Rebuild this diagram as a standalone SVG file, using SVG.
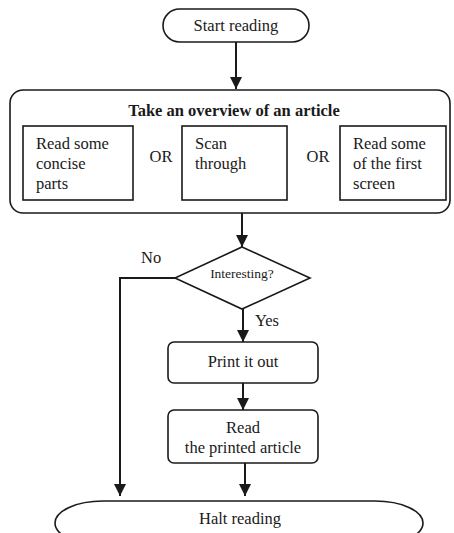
<svg xmlns="http://www.w3.org/2000/svg" width="454" height="533" viewBox="0 0 454 533">
<defs>
<style>
.s{fill:#fff;stroke:#1a1a1a;stroke-width:1.6}
.t{font-family:"Liberation Serif","Times New Roman",serif;font-size:16.5px;fill:#1a1a1a}
.c{text-anchor:middle}
.b{font-weight:bold}
.e{fill:none;stroke:#1a1a1a;stroke-width:2}
</style>
<marker id="ah" viewBox="0 0 12 12" refX="12" refY="6" markerWidth="12" markerHeight="12" markerUnits="userSpaceOnUse" orient="auto">
<path d="M0,0 L12,6 L0,12 Z" fill="#1a1a1a"/>
</marker>
</defs>
<rect width="454" height="533" fill="#fff"/>
<g id="start">
<rect class="s" x="163" y="9" width="146" height="33" rx="16.5"/>
<text class="t c" x="236" y="31">Start reading</text>
</g>
<g id="overview">
<rect class="s" x="10" y="90" width="440" height="123" rx="13"/>
<text class="t c b" x="234" y="116">Take an overview of an article</text>
<text class="t c" x="161" y="162">OR</text>
<text class="t c" x="318" y="162">OR</text>
</g>
<g id="opt1">
<rect class="s" x="23" y="126" width="110" height="74"/>
<text class="t" x="36" y="149">Read some</text>
<text class="t" x="36" y="169">concise</text>
<text class="t" x="36" y="189">parts</text>
</g>
<g id="opt2">
<rect class="s" x="182" y="126" width="105" height="74"/>
<text class="t" x="195" y="149">Scan</text>
<text class="t" x="195" y="169">through</text>
</g>
<g id="opt3">
<rect class="s" x="340" y="126" width="106" height="74"/>
<text class="t" x="353" y="149">Read some</text>
<text class="t" x="353" y="169">of the first</text>
<text class="t" x="353" y="189">screen</text>
</g>
<g id="decision">
<polygon class="s" points="242,247 310,278 242,309 175,278"/>
<text class="t c" x="242" y="278" style="font-size:13.5px">Interesting?</text>
</g>
<g id="print">
<rect class="s" x="168" y="342" width="150" height="41" rx="6"/>
<text class="t c" x="243" y="367">Print it out</text>
</g>
<g id="read">
<rect class="s" x="168" y="410" width="150" height="53" rx="6"/>
<text class="t c" x="243" y="433">Read</text>
<text class="t c" x="243" y="453">the printed article</text>
</g>
<g id="halt">
<path class="s" d="M103,501 H375 A48,22 0 0 1 375,545 H103 A48,22 0 0 1 103,501 Z"/>
<text class="t c" x="240" y="524">Halt reading</text>
</g>
<g id="connectors">
<path class="e" d="M236,42 V89" marker-end="url(#ah)"/>
<path class="e" d="M242,213 V247" marker-end="url(#ah)"/>
<path class="e" d="M175,278 H120 V496" marker-end="url(#ah)"/>
<path class="e" d="M243,309 V342" marker-end="url(#ah)"/>
<path class="e" d="M243,383 V410" marker-end="url(#ah)"/>
<path class="e" d="M245,463 V496" marker-end="url(#ah)"/>
<text class="t" x="141" y="263">No</text>
<text class="t" x="255" y="326">Yes</text>
</g>
</svg>
